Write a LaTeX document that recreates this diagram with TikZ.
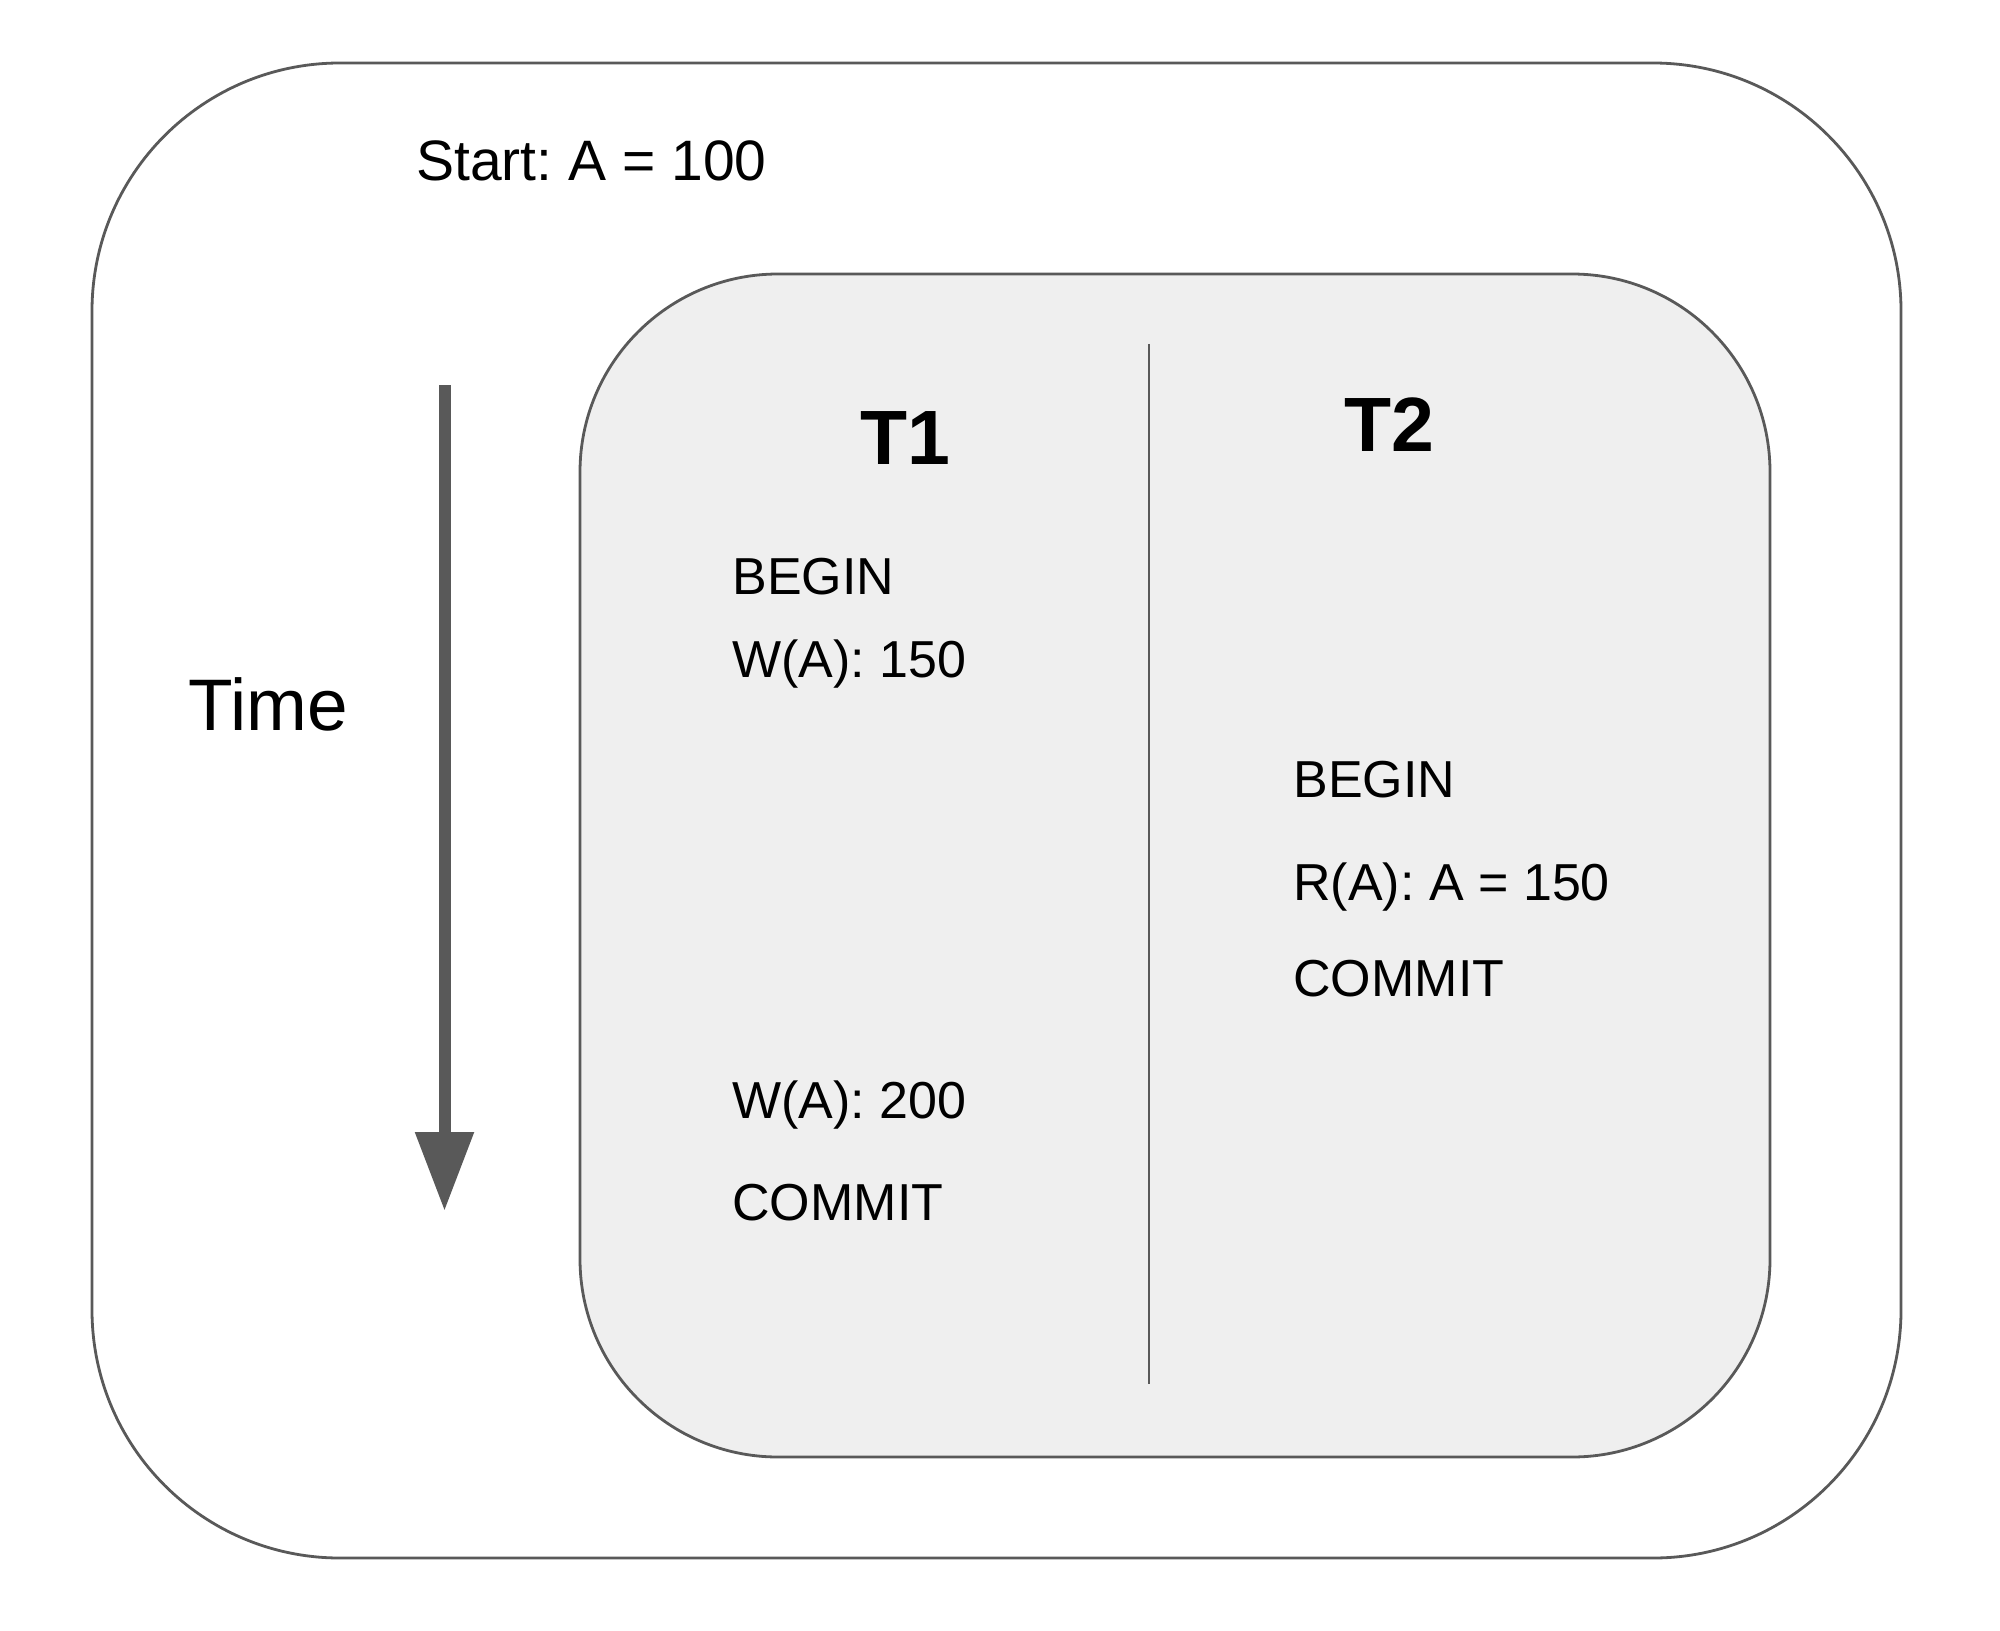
\documentclass[tikz,border=0pt]{standalone}
\usepackage{fontspec}
\setmainfont{Liberation Sans}
\usetikzlibrary{arrows.meta}
\definecolor{edge}{HTML}{595959}
\definecolor{panel}{HTML}{EFEFEF}
\frenchspacing
\begin{document}
\begin{tikzpicture}[x=0.5pt,y=-0.5pt,
  txt/.style={anchor=base west,inner sep=0pt,font=\fontsize{26}{30}\selectfont},
  head/.style={anchor=base west,inner sep=0pt,font=\fontsize{38.5}{44}\selectfont\bfseries},
  frame/.style={draw=edge,line width=1.4pt}]
\useasboundingbox (0,0) rectangle (2000,1631);
% outer frame
\draw[frame,rounded corners=124pt,fill=white] (92,63) rectangle (1901,1558);
% inner panel
\draw[frame,rounded corners=99pt,fill=panel] (580,274) rectangle (1770,1457);
% divider
\coordinate (dtop) at (1149,344);
\coordinate (dbot) at (1149,1384);
\draw[draw=edge,line width=1.2pt] (dtop) -- (dbot);
% time arrow
\coordinate (ats) at (444.5,385);
\coordinate (ate) at (444.5,1211);
\draw[draw=edge,fill=edge,line width=6pt,-{Triangle[width=28pt,length=39.5pt]}] (ats) -- (ate);
% texts
\node[txt,font=\fontsize{28.5}{33}\selectfont] (start) at (416,181) {Start: A = 100};
\node[txt,font=\fontsize{36.5}{41}\selectfont] (time) at (188,730) {Time};
\node[head] (t1) at (860,464) {T1};
\node[head] (t2) at (1344,451) {T2};
\node[txt] (b1) at (732,594) {BEGIN};
\node[txt] (w1) at (732,677) {W(A): 150};
\node[txt] (w2) at (732,1118) {W(A): 200};
\node[txt] (c1) at (732,1220) {COMMIT};
\node[txt] (b2) at (1293,797) {BEGIN};
\node[txt] (r2) at (1293,900) {R(A): A = 150};
\node[txt] (c2) at (1293,996) {COMMIT};
\end{tikzpicture}
\end{document}
